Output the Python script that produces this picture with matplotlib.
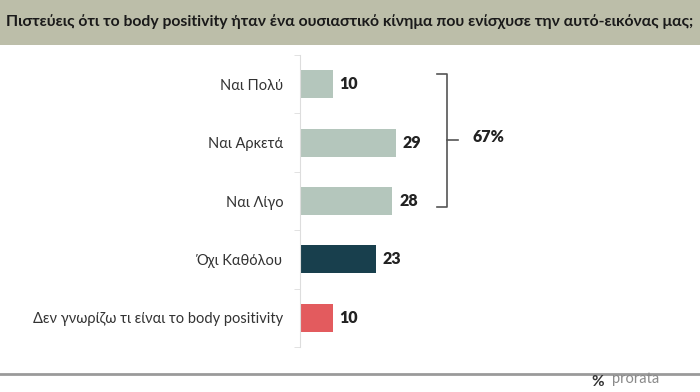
import matplotlib
matplotlib.use('Agg')
import matplotlib.pyplot as plt
from matplotlib.lines import Line2D
from matplotlib.patches import Rectangle

plt.rcParams['font.family'] = ['Lato', 'Open Sans', 'DejaVu Sans']

# data
labels = ['Ναι Πολύ', 'Ναι Αρκετά', 'Ναι Λίγο', 'Όχι Καθόλου',
          'Δεν γνωρίζω τι είναι το body positivity']
values = [10, 29, 28, 23, 10]
colors = ['#b4c6bc', '#b4c6bc', '#b4c6bc', '#183f4d', '#e35b5e']
title = 'Πιστεύεις ότι το body positivity ήταν ένα ουσιαστικό κίνημα που ενίσχυσε την αυτό-εικόνας μας;'
group_total = '67%'

W, H = 700, 392
fig = plt.figure(figsize=(7, 3.92), dpi=100)
fig.patch.set_facecolor('white')

# header band
fig.patches.append(Rectangle((0, 1 - 45 / H), 1, 45 / H, transform=fig.transFigure,
                             facecolor='#bcbea9', edgecolor='none', zorder=0))
fig.text(350 / W, 1 - 22 / H, title, ha='center', va='center', fontsize=11.3,
         fontweight='bold', color='#1a1a1a')

# bottom rule + logo
fig.add_artist(Line2D([0, 1], [1 - 374 / H, 1 - 374 / H], transform=fig.transFigure,
                      color='#9a9a9a', lw=2))
fig.text(598 / W, 1 - 382 / H, '%', ha='center', va='center', fontsize=11,
         fontweight='bold', color='#333333')
fig.text(612 / W, 1 - 379 / H, 'prorata', ha='left', va='center', fontsize=10.5,
         color='#8a8a8a')

# axes: x from 300 px to 700 px, y from 55 to 347 px
ax = fig.add_axes([300 / W, 1 - 347 / H, 400 / W, 292 / H])
px_per_unit = 3.3
ax.set_xlim(0, 400 / px_per_unit)
ypos = list(range(len(values)))
ax.set_ylim(4.47, -0.47)

ax.barh(ypos, values, height=0.48, color=colors)
for y, v in zip(ypos, values):
    ax.text(v + 2.0, y, str(v), va='center', ha='left', fontsize=11.5,
            fontweight='heavy', color='#222222')

ax.set_yticks(ypos)
ax.set_yticklabels(labels, fontsize=10.5, color='#333333')
ax.tick_params(axis='y', length=0, pad=12)
ax.set_yticks([y - 0.5 for y in ypos] + [4.5], minor=True)
ax.tick_params(axis='y', which='minor', length=4, color='#dddddd')
ax.set_xticks([])
for s in ['top', 'right', 'bottom']:
    ax.spines[s].set_visible(False)
ax.spines['left'].set_color('#dddddd')

# bracket for the "yes" group
bx = (447 - 300) / px_per_unit
top, bot, mid = -0.18, 2.1, 0.95
ax.plot([bx - 3, bx, bx, bx - 3], [top, top, bot, bot], color='#555555', lw=1.2,
        clip_on=False)
ax.plot([bx, bx + 3.3], [mid, mid], color='#555555', lw=1.2, clip_on=False)
ax.text((488 - 300) / px_per_unit, mid - 0.05, group_total, ha='center', va='center',
        fontsize=11.5, fontweight='heavy', color='#222222')

fig.savefig('out.png', dpi=100, facecolor='white')
